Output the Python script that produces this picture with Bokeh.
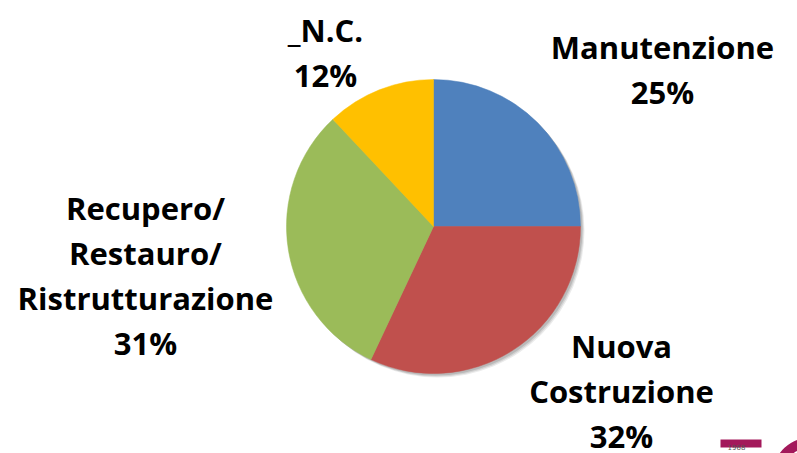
import math
from bokeh.plotting import figure
from bokeh.models import Range1d, ColumnDataSource
from bokeh.core.properties import value
from bokeh.embed import file_html
from bokeh.resources import INLINE

# ---- data ----
categories = ["Manutenzione", "Nuova Costruzione", "Recupero/Restauro/Ristrutturazione", "_N.C."]
label_lines = [["Manutenzione"], ["Nuova", "Costruzione"], ["Recupero/", "Restauro/", "Ristrutturazione"], ["_N.C."]]
shares = [25, 32, 31, 12]
colors = ["#4f81bd", "#c0504d", "#9bbb59", "#ffc000"]

# ---- layout (pixel-space positions, not data) ----
W, H = 797, 453
CX, CY, R = 433, -226, 147
label_anchor = [(662, -46), (621, -345), (145, -207), (325, -29)]  # x centre, first baseline
LINE_STEP = 45
FONT = "Open Sans"
FSIZE = "31px"

p = figure(width=W, height=H, output_backend="svg", toolbar_location=None,
           x_range=Range1d(0, W), y_range=Range1d(-H, 0),
           min_border=0, match_aspect=False)
p.axis.visible = False
p.grid.visible = False
p.outline_line_color = None
p.background_fill_color = "white"
p.border_fill_color = "white"

total = float(sum(shares))
starts, ends = [], []
cum = 0.0
for v in shares:
    starts.append(math.pi / 2 - 2 * math.pi * cum / total)
    cum += v
    ends.append(math.pi / 2 - 2 * math.pi * cum / total)

src = ColumnDataSource(dict(cat=categories, val=shares, color=colors, start=starts, end=ends,
                            x=[CX] * len(shares), y=[CY] * len(shares)))

# soft shadow
for off, a in [(4, 0.08), (3, 0.10), (2, 0.12)]:
    p.circle(x=CX + off, y=CY - off, radius=R, fill_color="#000000", fill_alpha=a, line_color=None)

p.wedge(x="x", y="y", radius=R, start_angle="start", end_angle="end", direction="clock",
        fill_color="color", line_color="color", line_width=0.5, source=src)

# labels
tx, ty, tt = [], [], []
for lines, v, (ax, ay) in zip(label_lines, shares, label_anchor):
    allines = lines + [f"{v}%"]
    for i, t in enumerate(allines):
        tx.append(ax)
        ty.append(ay - i * LINE_STEP)
        tt.append(t)
p.text(x=tx, y=ty, text=tt, text_font=value(FONT), text_font_style="bold",
       text_font_size=FSIZE, text_align="center", text_baseline="alphabetic", text_color="#000000")

# partial logo in the corner (decoration)
p.quad(left=[720], right=[761], top=[-439], bottom=[-447], fill_color="#a3195b", line_color=None)
p.text(x=[736], y=[-446], text=["1968"], text_font=value("DejaVu Sans"), text_font_size="7px",
       text_align="center", text_baseline="alphabetic", text_color="#555555")
p.annular_wedge(x=[810], y=[-475], inner_radius=28, outer_radius=38, start_angle=1.2, end_angle=3.0,
                fill_color="#a3195b", line_color=None)

open("out.html", "w").write(file_html(p, INLINE))
